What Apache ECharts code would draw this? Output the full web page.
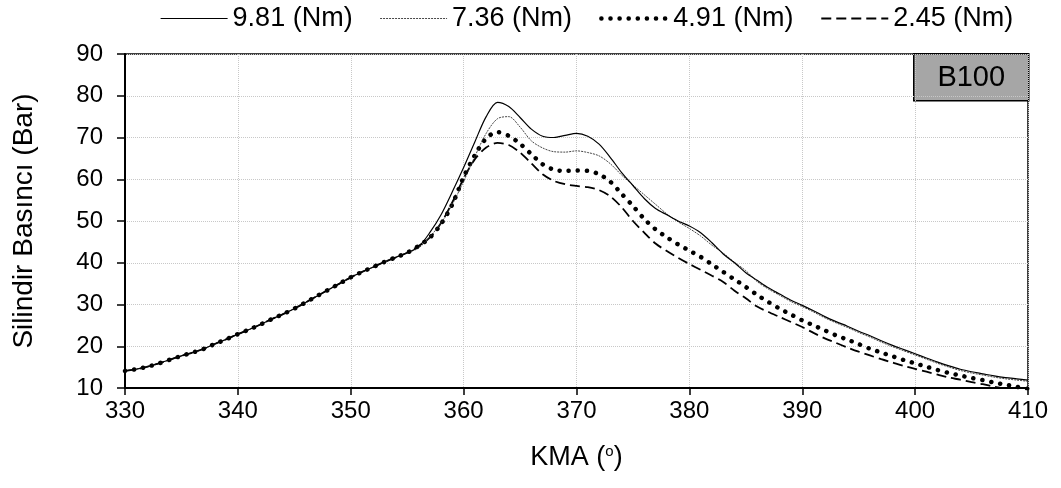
<!DOCTYPE html>
<html>
<head>
<meta charset="utf-8">
<script src="https://cdn.jsdelivr.net/npm/echarts@6/dist/echarts.min.js"></script>
<style>html,body{margin:0;padding:0;background:#fff;}#c{width:1061px;height:488px;}</style>
</head>
<body>
<div id="c"></div>
<script>
// Crank angle (KMA, degrees)
const kma = [];
for (let a = 330; a <= 410; a++) kma.push(a);

const seriesNames = ['9.81 (Nm)', '7.36 (Nm)', '4.91 (Nm)', '2.45 (Nm)'];

// Common compression part 330..355
const common = [14.1,14.5,15.1,15.9,16.8,17.7,18.5,19.4,20.6,21.7,22.9,24.0,25.2,26.5,27.7,29.0,30.5,32.0,33.5,35.0,36.5,37.8,39.0,40.2,41.3,42.4];

// 356..410
const p981tail = [43.8,47.2,51.5,57.0,62.8,69.0,75.0,78.4,77.4,74.8,72.0,70.3,70.0,70.5,71.0,70.3,68.4,65.2,61.6,58.5,55.4,53.0,51.5,50.0,48.8,47.2,44.8,42.1,40.0,37.6,35.8,34.0,32.5,31.0,29.8,28.5,27.1,25.9,24.8,23.6,22.5,21.3,20.2,19.2,18.2,17.2,16.2,15.3,14.5,13.9,13.4,12.9,12.5,12.2,11.9];
const p736tail = [43.5,46.2,49.5,54.0,59.5,65.5,71.0,74.5,75.0,72.5,69.2,67.5,66.6,66.5,66.8,66.4,65.6,63.7,61.0,58.6,56.3,54.0,51.7,49.8,48.2,46.4,44.2,42.3,40.1,38.1,35.5,33.7,32.2,30.7,29.5,28.2,26.8,25.6,24.5,23.3,22.2,21.0,19.9,18.9,17.9,16.9,15.9,15.0,14.2,13.6,13.1,12.6,12.2,11.9,11.6];
const p491tail = [44.0,46.0,49.3,54.0,60.5,65.8,69.8,71.3,70.4,68.5,66.0,63.6,62.3,62.0,62.1,62.0,61.2,59.4,56.5,53.6,50.5,48.0,46.1,44.4,42.9,41.4,39.6,37.8,36.0,34.2,32.3,30.6,29.0,27.6,26.2,25.0,23.8,22.6,21.6,20.5,19.4,18.5,17.6,16.7,15.9,15.1,14.3,13.6,13.0,12.4,11.9,11.3,10.8,10.3,9.8];
const p245tail = [44.0,46.0,49.5,54.5,60.2,64.8,67.6,68.7,68.2,66.4,63.8,61.2,59.6,58.8,58.4,58.1,57.4,55.9,53.3,50.0,47.2,44.6,42.8,41.2,39.7,38.3,36.9,35.4,33.3,31.5,29.5,28.2,27.0,25.8,24.6,23.2,21.9,20.8,19.7,18.7,17.8,16.9,16.1,15.3,14.6,13.9,13.2,12.5,12.0,11.4,10.9,10.3,9.8,9.5,9.2];

const p981 = common.concat(p981tail);
const p736 = common.concat(p736tail);
const p491 = common.concat(p491tail);
const p245 = common.concat(p245tail);

const xTicks = [330,340,350,360,370,380,390,400,410];
const yTicks = [10,20,30,40,50,60,70,80,90];

function pairs(vals){ return kma.map((x,i)=>[x, vals[i]]); }

const styles = [
  {color:'#000', width:1.2, type:'solid'},
  {color:'#333', width:0.9, type:[2,1]},
  {color:'#000', width:4.5, type:[0.1,9], cap:'round'},
  {color:'#000', width:1.8, type:[10,5]}
];

const FONT = 'Liberation Sans, Arial, sans-serif';
const chart = echarts.init(document.getElementById('c'), null, {renderer:'canvas'});
chart.setOption({
  animation: false,
  backgroundColor: '#fff',
  legend: {
    top: 0, left: 155,
    itemGap: 27, itemWidth: 67, itemHeight: 14,
    itemStyle: {opacity: 0},
    textStyle: {fontFamily: FONT, fontSize: 27, color: '#000'},
    data: seriesNames.map((n,i)=>({name:n, lineStyle:Object.assign({}, styles[i])}))
  },
  grid: {left:125, right:33, top:54, bottom:100, show:true, borderColor:'#000', borderWidth:1.5, backgroundColor:'transparent'},
  xAxis: {
    type:'value', min:xTicks[0], max:xTicks[xTicks.length-1], interval:10,
    name:'KMA ({sup|o})', nameLocation:'middle', nameGap:56,
    nameTextStyle:{fontFamily:FONT, fontSize:27, color:'#000', rich:{sup:{fontFamily:FONT, fontSize:15, color:'#000', verticalAlign:'top', padding:[0,0,10,0]}}},
    axisLine:{show:true, onZero:false, lineStyle:{color:'#000', width:2}},
    axisTick:{show:true, inside:false, length:7, lineStyle:{color:'#000', width:1.5}},
    axisLabel:{fontFamily:FONT, fontSize:24, color:'#000', margin:11},
    splitLine:{show:true, lineStyle:{color:'#c8c8c8', type:'dotted', width:1}}
  },
  yAxis: {
    type:'value', min:yTicks[0], max:yTicks[yTicks.length-1], interval:10,
    name:'Silindir Basıncı (Bar)', nameLocation:'middle', nameGap:87, nameRotate:90,
    nameTextStyle:{fontFamily:FONT, fontSize:28, color:'#000'},
    axisLine:{show:true, lineStyle:{color:'#000', width:2}},
    axisTick:{show:true, inside:false, length:8, lineStyle:{color:'#000', width:1.5}},
    axisLabel:{fontFamily:FONT, fontSize:24, color:'#000', margin:22},
    splitLine:{show:true, lineStyle:{color:'#c8c8c8', type:'dotted', width:1}}
  },
  graphic: [{
    type:'group', left:913, top:53, z:100,
    children:[
      {type:'rect', shape:{x:0, y:0, width:115, height:47}, style:{fill:'#a6a6a6', stroke:'#000', lineWidth:1.5}},
      {type:'text', x:57.5, y:24.5, style:{text:'B100', fontFamily:FONT, fontSize:29, fill:'#000', align:'center', verticalAlign:'middle'}}
    ]
  }],
  series: seriesNames.map((n,i)=>({
    name:n, type:'line', data:pairs([p981,p736,p491,p245][i]), symbol:'none', smooth:0.3, z:4-i,
    lineStyle:Object.assign({}, styles[i]), itemStyle:{color:styles[i].color}
  }))
});
</script>
</body>
</html>
